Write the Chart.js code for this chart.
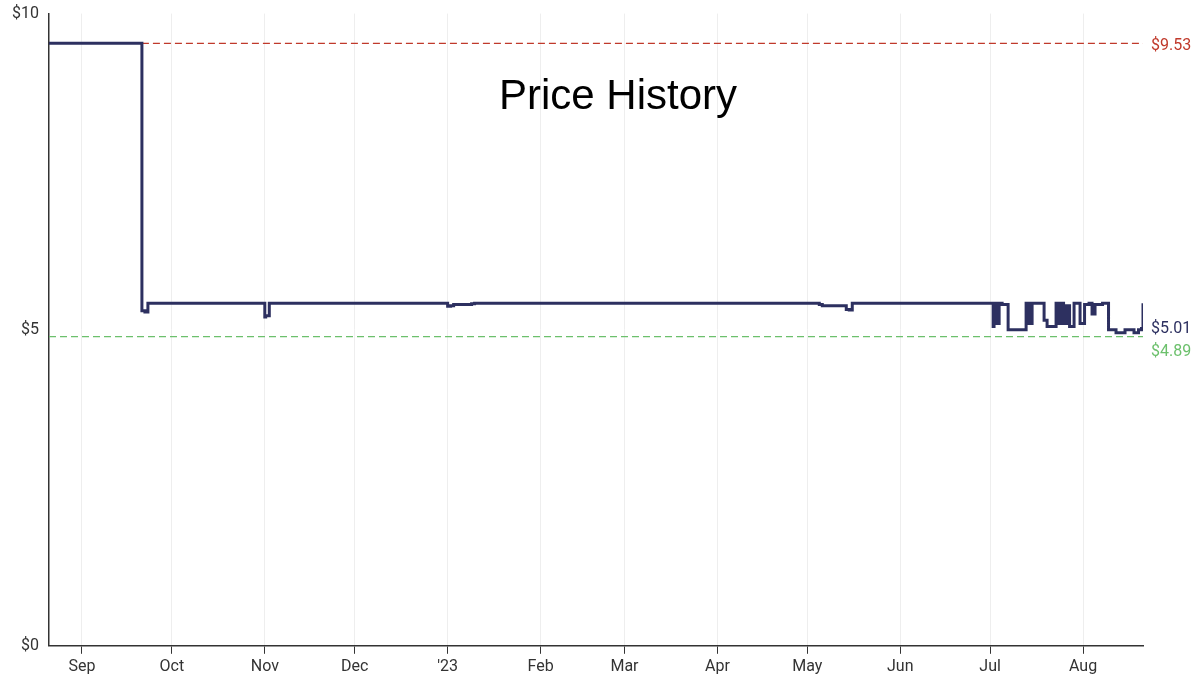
<!DOCTYPE html>
<html><head><meta charset="utf-8">
<script src="https://cdn.jsdelivr.net/npm/chart.js@4"></script>
<style>html,body{margin:0;padding:0;background:#fff}#w{width:1200px;height:681px}</style>
</head><body><div id="w"><canvas id="c"></canvas></div>
<script>
const days = [0,31,32,33,72,72.3,73.5,133,134,135,141,142,257,258,266,267,268,315,315.3,316,317,318,320,326,327,328,332,333,336,336.7,337.5,338.5,339.5,340.5,342,344,345.5,347,348,349,351.5,353.5,356,359,362,363.5,364.5,365];
const prices = [9.53,5.3,5.28,5.42,5.2,5.22,5.42,5.37,5.38,5.4,5.41,5.42,5.4,5.38,5.32,5.31,5.42,5.05,5.42,5.1,5.42,5.4,5.0,5.42,5.1,5.42,5.15,5.05,5.42,5.1,5.42,5.1,5.38,5.05,5.42,5.1,5.4,5.42,5.25,5.4,5.42,5.0,4.95,5.0,4.95,5.0,5.02,5.42];
const maxPrice = 9.53, minPrice = 4.89, lastPrice = 5.01;
const monthDays = [11,41,72,102,133,164,192,223,253,284,314,345];
const monthLabels = ['Sep','Oct','Nov','Dec',"'23",'Feb','Mar','Apr','May','Jun','Jul','Aug'];
const yTicks = [0,5,10];

const pts = days.map((d,i)=>({x:d,y:prices[i]}));
const labelPlugin = {
  id:'lbl',
  afterDraw(ch){
    const c=ch.ctx, y=ch.scales.y, x=ch.chartArea.right+8;
    c.save(); c.font='16px Roboto'; c.textBaseline='middle'; c.textAlign='left';
    c.fillStyle='#c0392b'; c.fillText('$9.53',x,y.getPixelForValue(maxPrice)+3);
    c.fillStyle='#2d3060'; c.fillText('$5.01',x,y.getPixelForValue(lastPrice));
    c.fillStyle='#6cc06c'; c.fillText('$4.89',x,y.getPixelForValue(minPrice)+15);
    c.fillStyle='#000'; c.font='42px "Liberation Sans"'; c.textAlign='center';
    c.fillText('Price History',618,97);
    c.restore();
  }
};
new Chart(document.getElementById('c'),{
  type:'line',
  data:{datasets:[
    {data:pts,stepped:true,borderColor:'#2d3060',borderWidth:3,pointRadius:0,order:0},
    {data:[{x:31,y:maxPrice},{x:365,y:maxPrice}],borderColor:'#c0392b',borderWidth:1.2,borderDash:[7,4],pointRadius:0,order:1},
    {data:[{x:0,y:minPrice},{x:365,y:minPrice}],borderColor:'#6cc06c',borderWidth:1.2,borderDash:[7,4],pointRadius:0,order:1}
  ]},
  options:{
    responsive:true,maintainAspectRatio:false,animation:false,
    layout:{padding:{top:8,right:57,left:0,bottom:0}},
    plugins:{legend:{display:false},tooltip:{enabled:false}},
    scales:{
      x:{type:'linear',min:0,max:365,
        afterBuildTicks(s){s.ticks=monthDays.map(v=>({value:v}));},
        ticks:{autoSkip:false,maxRotation:0,color:'#333',font:{family:'Roboto',size:16},padding:4,
          callback(v){const i=monthDays.indexOf(v);return i>=0?monthLabels[i]:'';}},
        grid:{color:'#eeeeee',tickColor:'#333',tickLength:8,drawTicks:true},
        border:{color:'#333',width:1.5}},
      y:{min:0,max:10,
        afterBuildTicks(s){s.ticks=yTicks.map(v=>({value:v}));},
        afterFit(s){s.width=49;},
        ticks:{color:'#333',font:{family:'Roboto',size:16},padding:4,callback:v=>'$'+v},
        grid:{display:false,drawTicks:true,tickLength:6},
        border:{color:'#333',width:1.5}}
    }
  },
  plugins:[labelPlugin]
});
</script></body></html>
